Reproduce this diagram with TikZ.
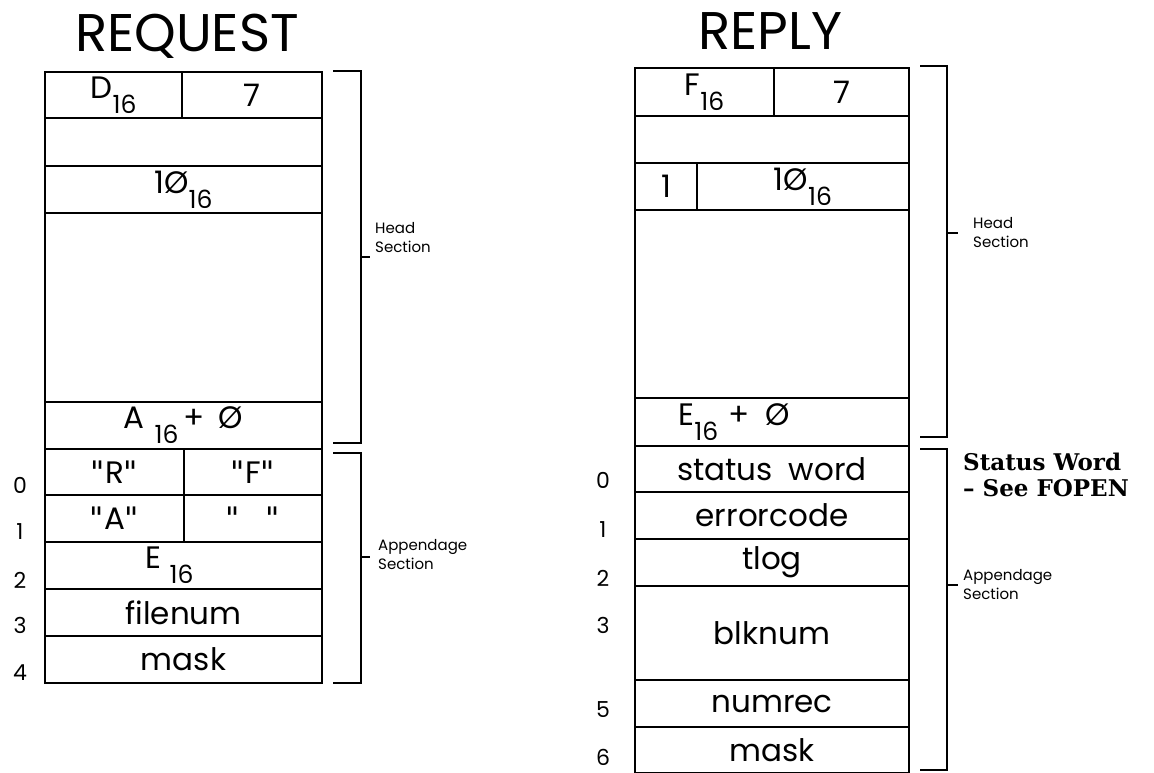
\documentclass[tikz,border=0pt]{standalone}
\usepackage{fontspec}
\setmainfont{Poppins}
\newfontfamily\notefont{DejaVu Serif}
\newfontfamily\quotefont{DejaVu Sans}
\usetikzlibrary{positioning}
\newcommand\hexsub[1]{\raisebox{-15pt}{\fontsize{25}{25}\selectfont #1}}
\newcommand\qm{{\quotefont"}}

\begin{document}
\begin{tikzpicture}[
  x=1pt, y=-1pt,
  fld/.style={draw, line width=2.5pt, inner sep=0pt,
              font=\fontsize{31}{33}\selectfont},
  idx/.style={font=\fontsize{22}{22}\selectfont},
  ttl/.style={font=\fontsize{53}{53}\selectfont},
  brk/.style={line width=2.5pt},
  sect/.style={font=\fontsize{15}{19}\selectfont, align=left, anchor=west, inner sep=0pt},
  note/.style={font=\notefont\bfseries\fontsize{23}{26}\selectfont, align=left,
               anchor=west, inner sep=0pt},
]

% page
\useasboundingbox (0,0) rectangle (1154,773);
\fill[white] (0,0) rectangle (1154,773);

% titles
\node[ttl] (qtitle) at (187,36) {REQUEST};
\node[ttl] (ptitle) at (770,31) {REPLY};

% request block
\node[fld, minimum width=137pt, minimum height=46pt] (qa1) at (113.5,95) {D\hexsub{16}};
\node[fld, minimum width=140pt, minimum height=46pt] (qa2) at (252,95) {7};
\node[fld, minimum width=277pt, minimum height=48pt] (qb) at (183.5,142) {};
\node[fld, minimum width=277pt, minimum height=47pt] (qc) at (183.5,189.5) {1Ø\hexsub{16}};
\node[fld, minimum width=277pt, minimum height=189pt] (qd) at (183.5,307.5) {};
\node[fld, minimum width=277pt, minimum height=47pt] (qe) at (183.5,425.5)
  {A\hspace{10pt}\hexsub{16}\,+\hspace{14pt}Ø};
\node[fld, minimum width=139pt, minimum height=46pt] (qf1) at (114.5,472) {\qm R\qm};
\node[fld, minimum width=138pt, minimum height=46pt] (qf2) at (253,472) {\qm F\qm};
\node[fld, minimum width=139pt, minimum height=47pt] (qg1) at (114.5,518.5) {\qm A\qm};
\node[fld, minimum width=138pt, minimum height=47pt] (qg2) at (253,518.5) {\qm\hspace{26pt}\qm};
\node[fld, minimum width=277pt, minimum height=47pt] (qh) at (183.5,565.5)
  {E\hspace{8pt}\hexsub{16}\hspace*{28pt}};
\node[fld, minimum width=277pt, minimum height=47pt] (qi) at (183.5,612.5) {filenum};
\node[fld, minimum width=277pt, minimum height=47pt] (qj) at (183.5,659.5) {mask};

\foreach \n/\y in {0/485,1/532,2/580,3/625,4/673}
  \node[idx] (qn\n) at (20,\y) {\n};

% request brackets
\draw[brk] (333,71) -| (361,443) -- (333,443);
\draw[brk] (361,257) -- (370,257);
\draw[brk] (333,453) -| (361,683) -- (333,683);
\draw[brk] (361,557) -- (370,557);
\node[sect] (qhead) at (375,238) {Head\\Section};
\node[sect] (qapp) at (378,555) {Appendage\\Section};

% reply block
\node[fld, minimum width=139pt, minimum height=48pt] (pa1) at (704.5,92) {F\hexsub{16}};
\node[fld, minimum width=135pt, minimum height=48pt] (pa2) at (841.5,92) {7};
\node[fld, minimum width=274pt, minimum height=47pt] (pb) at (772,139.5) {};
\node[fld, minimum width=62pt, minimum height=47pt] (pc1) at (666,186.5) {1};
\node[fld, minimum width=212pt, minimum height=47pt] (pc2) at (803,186.5) {1Ø\hexsub{16}};
\node[fld, minimum width=274pt, minimum height=188pt] (pd) at (772,304) {};
\node[fld, minimum width=274pt, minimum height=48pt] (pe) at (772,422)
  {E\hexsub{16}\hspace{10pt}+\hspace{16pt}Ø\hspace*{76pt}};
\node[fld, minimum width=274pt, minimum height=46pt] (pf) at (772,469) {status\hspace{16pt}word};
\node[fld, minimum width=274pt, minimum height=47pt] (pg) at (772,515.5) {errorcode};
\node[fld, minimum width=274pt, minimum height=47pt] (ph) at (772,562.5) {tlog};
\node[fld, minimum width=274pt, minimum height=94pt] (pi) at (772,633) {blknum};
\node[fld, minimum width=274pt, minimum height=47pt] (pj) at (772,703.5) {numrec};
\node[fld, minimum width=274pt, minimum height=46pt] (pk) at (772,750) {mask};

\foreach \n/\y in {0/480,1/530,2/578,3/625,5/710,6/757}
  \node[idx] (pn\n) at (603,\y) {\n};

% reply brackets
\draw[brk] (920,66) -| (947,437) -- (920,437);
\draw[brk] (947,233) -- (958,233);
\draw[brk] (920,449) -| (947,770) -- (920,770);
\draw[brk] (947,585) -- (958,585);
\node[sect] (phead) at (973,233) {Head\\Section};
\node[sect] (papp) at (963,585) {Appendage\\Section};
\node[note] (pstat) at (963,475) {Status Word\\– See FOPEN};

\end{tikzpicture}
\end{document}
